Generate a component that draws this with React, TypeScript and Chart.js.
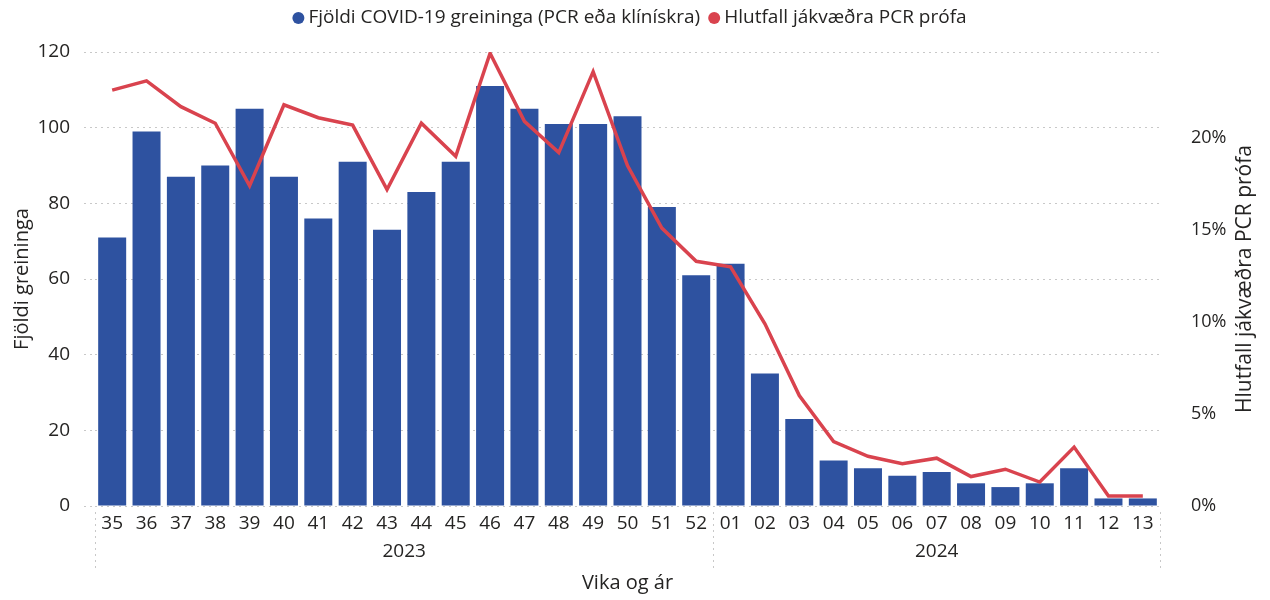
import React, { useEffect, useRef } from "react";
import { Chart, registerables } from "chart.js";

Chart.register(...registerables);

const weeks = [
  "35", "36", "37", "38", "39", "40", "41", "42", "43", "44", "45", "46", "47", "48", "49", "50", "51", "52",
  "01", "02", "03", "04", "05", "06", "07", "08", "09", "10", "11", "12", "13",
];
const yearLabels = ["2023", "2024"];
const yearStartIndex = [0, 18];

const caseCounts = [
  71, 99, 87, 90, 105, 87, 76, 91, 73, 83, 91, 111, 105, 101, 101, 103, 79, 61,
  64, 35, 23, 12, 10, 8, 9, 6, 5, 6, 10, 2, 2,
];
const positiveShare = [
  0.226, 0.231, 0.217, 0.208, 0.174, 0.218, 0.211, 0.207, 0.172, 0.208, 0.190, 0.246, 0.209, 0.192, 0.236, 0.185, 0.151, 0.133,
  0.130, 0.099, 0.060, 0.035, 0.027, 0.023, 0.026, 0.016, 0.020, 0.013, 0.032, 0.0054, 0.0054,
];
const leftTicksMax = 120;
const rightAxisMax = 0.2467;

const FONT = "'Segoe UI', 'Open Sans', sans-serif";
const TEXT = "#252423";
const BLUE = "#2E52A0";
const RED = "#D9434E";
const GRID = "#C8C8C8";
const TICK_SIZE = 19;
const TITLE_SIZE = 20;

const extrasPlugin = {
  id: "extras",
  afterDraw(chart: any) {
    const { ctx, chartArea } = chart;
    const x = chart.scales.x;
    ctx.save();
    // group separators
    const bounds: number[] = [x.left];
    for (let i = 1; i < yearStartIndex.length; i++) {
      const s = yearStartIndex[i];
      bounds.push((x.getPixelForTick(s - 1) + x.getPixelForTick(s)) / 2);
    }
    bounds.push(x.right);
    ctx.strokeStyle = GRID;
    ctx.lineWidth = 1;
    ctx.setLineDash([2, 4]);
    bounds.forEach((b) => {
      ctx.beginPath();
      ctx.moveTo(Math.round(b) + 0.5, chartArea.bottom + 6);
      ctx.lineTo(Math.round(b) + 0.5, chartArea.bottom + 62);
      ctx.stroke();
    });
    ctx.setLineDash([]);
    // year labels
    ctx.fillStyle = TEXT;
    ctx.font = `${TICK_SIZE}px ${FONT}`;
    ctx.textAlign = "center";
    ctx.textBaseline = "middle";
    for (let i = 0; i < yearLabels.length; i++) {
      const cx = (bounds[i] + bounds[i + 1]) / 2;
      ctx.fillText(yearLabels[i], cx, chartArea.bottom + 46);
    }
    // legend
    const items = chart.data.datasets.map((d: any) => ({ label: d.label, color: d.borderColor || d.backgroundColor }));
    ctx.font = `${TICK_SIZE}px ${FONT}`;
    const r = 6;
    const gapCircle = 4;
    const gapItem = 8;
    const widths = items.map((it: any) => ctx.measureText(it.label).width);
    let total = 0;
    widths.forEach((w: number, i: number) => {
      total += 2 * r + gapCircle + w + (i < widths.length - 1 ? gapItem : 0);
    });
    let lx = (chartArea.left + chartArea.right) / 2 + 2 - total / 2;
    const ly = 18;
    ctx.textAlign = "left";
    items.forEach((it: any, i: number) => {
      ctx.fillStyle = it.color;
      ctx.beginPath();
      ctx.arc(lx + r, ly, r, 0, Math.PI * 2);
      ctx.fill();
      lx += 2 * r + gapCircle;
      ctx.fillStyle = TEXT;
      ctx.fillText(it.label, lx, ly);
      lx += widths[i] + gapItem;
    });
    // right axis title (reads bottom to top)
    ctx.textAlign = "center";
    ctx.font = `21px ${FONT}`;
    ctx.translate(1245, (chartArea.top + chartArea.bottom) / 2);
    ctx.rotate(-Math.PI / 2);
    ctx.fillText("Hlutfall jákvæðra PCR prófa", 0, 0);
    ctx.restore();
  },
};

export default function App() {
  const ref = useRef<HTMLCanvasElement | null>(null);
  useEffect(() => {
    if (!ref.current) return;
    const chart = new Chart(ref.current, {
      type: "bar",
      data: {
        labels: weeks,
        datasets: [
          {
            type: "bar",
            label: "Fjöldi COVID-19 greininga (PCR eða klínískra)",
            data: caseCounts,
            backgroundColor: BLUE,
            borderWidth: 0,
            barPercentage: 0.815,
            categoryPercentage: 1,
            yAxisID: "y",
            order: 2,
          } as any,
          {
            type: "line",
            label: "Hlutfall jákvæðra PCR prófa",
            data: positiveShare,
            borderColor: RED,
            backgroundColor: RED,
            borderWidth: 3.5,
            pointRadius: 0,
            tension: 0,
            yAxisID: "y1",
            order: 1,
          } as any,
        ],
      },
      options: {
        responsive: false,
        animation: false,
        layout: { padding: { top: 52, left: 0, right: 0, bottom: 0 } },
        plugins: {
          tooltip: { enabled: false },
          legend: { display: false },
        },
        scales: {
          x: {
            grid: { display: false },
            border: { display: false },
            ticks: {
              color: TEXT,
              font: { family: FONT, size: TICK_SIZE },
              padding: -2,
              maxRotation: 0,
              autoSkip: false,
            },
            title: {
              display: true,
              text: "Vika og ár",
              color: TEXT,
              font: { family: FONT, size: TITLE_SIZE },
              padding: { top: 0, bottom: 5 },
            },
            afterFit: (s: any) => {
              s.height = 94;
            },
          },
          y: {
            position: "left",
            min: 0,
            max: leftTicksMax,
            ticks: {
              stepSize: 20,
              color: TEXT,
              font: { family: FONT, size: TICK_SIZE },
              padding: 14,
            },
            grid: {
              color: GRID,
              drawTicks: true,
              tickLength: 11,
              tickBorderDash: [2, 4],
              tickColor: GRID,
            },
            border: { display: false, dash: [2, 4] },
            title: {
              display: true,
              text: "Fjöldi greininga",
              color: TEXT,
              font: { family: FONT, size: TITLE_SIZE },
              padding: { top: 10, bottom: 0 },
            },
            afterFit: (s: any) => {
              s.width = 95;
            },
          },
          y1: {
            position: "right",
            min: 0,
            max: rightAxisMax,
            grid: { display: false, drawOnChartArea: false },
            border: { display: false },
            ticks: {
              stepSize: 0.05,
              color: TEXT,
              font: { family: FONT, size: 18 },
              padding: 23,
              callback: (v: any) => {
                const n = Number(v);
                const rr = Math.round(n * 20);
                if (Math.abs(n * 20 - rr) > 1e-6) return "";
                return `${rr * 5}%`;
              },
            },
            afterFit: (s: any) => {
              s.width = 110;
            },
          },
        },
      },
      plugins: [extrasPlugin],
    });
    return () => chart.destroy();
  }, []);
  return (
    <div style={{ position: "absolute", left: 0, top: 0, width: 1270, height: 600, background: "#fff" }}>
      <canvas ref={ref} width={1270} height={600} />
    </div>
  );
}
